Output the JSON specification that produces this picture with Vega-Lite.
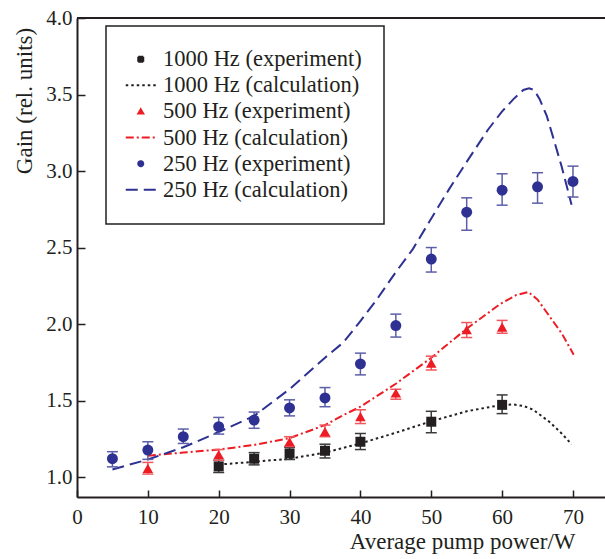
{
  "$schema": "https://vega.github.io/schema/vega-lite/v6.json",
  "width": 528,
  "height": 479,
  "autosize": {"type": "none"},
  "padding": {"left": 77, "top": 18, "right": 0, "bottom": 62},
  "background": "white",
  "config": {
    "view": {"stroke": null},
    "font": "Liberation Serif",
    "axis": {
      "grid": false,
      "domainColor": "#231f20",
      "domainWidth": 2,
      "tickColor": "#231f20",
      "tickWidth": 1.5,
      "labelFont": "Liberation Serif",
      "labelColor": "#231f20",
      "labelFontSize": 21,
      "titleFont": "Liberation Serif",
      "titleColor": "#231f20",
      "titleFontSize": 23,
      "titleFontWeight": "normal"
    }
  },
  "data": {
    "values": [
      {"s": "1000 Hz (experiment)", "p": 20, "g": 1.07, "lo": 1.03, "hi": 1.11},
      {"s": "1000 Hz (experiment)", "p": 25, "g": 1.12, "lo": 1.08, "hi": 1.16},
      {"s": "1000 Hz (experiment)", "p": 30, "g": 1.155, "lo": 1.115, "hi": 1.195},
      {"s": "1000 Hz (experiment)", "p": 35, "g": 1.172, "lo": 1.125, "hi": 1.215},
      {"s": "1000 Hz (experiment)", "p": 40, "g": 1.231, "lo": 1.18, "hi": 1.285},
      {"s": "1000 Hz (experiment)", "p": 50, "g": 1.362, "lo": 1.29, "hi": 1.43},
      {"s": "1000 Hz (experiment)", "p": 60, "g": 1.472, "lo": 1.415, "hi": 1.537},
      {"s": "500 Hz (experiment)", "p": 10, "g": 1.057, "lo": 1.02, "hi": 1.096},
      {"s": "500 Hz (experiment)", "p": 20, "g": 1.148, "lo": 1.11, "hi": 1.18},
      {"s": "500 Hz (experiment)", "p": 30, "g": 1.231, "lo": 1.2, "hi": 1.264},
      {"s": "500 Hz (experiment)", "p": 35, "g": 1.297, "lo": 1.264, "hi": 1.34},
      {"s": "500 Hz (experiment)", "p": 40, "g": 1.395, "lo": 1.35, "hi": 1.44},
      {"s": "500 Hz (experiment)", "p": 45, "g": 1.55, "lo": 1.509, "hi": 1.574},
      {"s": "500 Hz (experiment)", "p": 50, "g": 1.745, "lo": 1.7, "hi": 1.79},
      {"s": "500 Hz (experiment)", "p": 55, "g": 1.963, "lo": 1.912, "hi": 2.01},
      {"s": "500 Hz (experiment)", "p": 60, "g": 1.98, "lo": 1.94, "hi": 2.024},
      {"s": "250 Hz (experiment)", "p": 5, "g": 1.12, "lo": 1.067, "hi": 1.166},
      {"s": "250 Hz (experiment)", "p": 10, "g": 1.177, "lo": 1.116, "hi": 1.231},
      {"s": "250 Hz (experiment)", "p": 15, "g": 1.264, "lo": 1.22, "hi": 1.314},
      {"s": "250 Hz (experiment)", "p": 20, "g": 1.33, "lo": 1.281, "hi": 1.39},
      {"s": "250 Hz (experiment)", "p": 25, "g": 1.373, "lo": 1.319, "hi": 1.425},
      {"s": "250 Hz (experiment)", "p": 30, "g": 1.452, "lo": 1.4, "hi": 1.505},
      {"s": "250 Hz (experiment)", "p": 35, "g": 1.517, "lo": 1.46, "hi": 1.585},
      {"s": "250 Hz (experiment)", "p": 40, "g": 1.74, "lo": 1.668, "hi": 1.81},
      {"s": "250 Hz (experiment)", "p": 45, "g": 1.99, "lo": 1.915, "hi": 2.065},
      {"s": "250 Hz (experiment)", "p": 50, "g": 2.425, "lo": 2.34, "hi": 2.5},
      {"s": "250 Hz (experiment)", "p": 55, "g": 2.731, "lo": 2.613, "hi": 2.825},
      {"s": "250 Hz (experiment)", "p": 60, "g": 2.875, "lo": 2.777, "hi": 2.982},
      {"s": "250 Hz (experiment)", "p": 65, "g": 2.897, "lo": 2.79, "hi": 2.989},
      {"s": "250 Hz (experiment)", "p": 70, "g": 2.932, "lo": 2.83, "hi": 3.032},
      {"s": "1000 Hz (calculation)", "p": 20.8, "g": 1.085},
      {"s": "1000 Hz (calculation)", "p": 25, "g": 1.1},
      {"s": "1000 Hz (calculation)", "p": 30, "g": 1.12},
      {"s": "1000 Hz (calculation)", "p": 35, "g": 1.16},
      {"s": "1000 Hz (calculation)", "p": 40, "g": 1.22},
      {"s": "1000 Hz (calculation)", "p": 45, "g": 1.29},
      {"s": "1000 Hz (calculation)", "p": 50, "g": 1.365},
      {"s": "1000 Hz (calculation)", "p": 55, "g": 1.43},
      {"s": "1000 Hz (calculation)", "p": 59.7, "g": 1.47},
      {"s": "1000 Hz (calculation)", "p": 61.5, "g": 1.475},
      {"s": "1000 Hz (calculation)", "p": 63, "g": 1.465},
      {"s": "1000 Hz (calculation)", "p": 64.4, "g": 1.44},
      {"s": "1000 Hz (calculation)", "p": 66.7, "g": 1.36},
      {"s": "1000 Hz (calculation)", "p": 68.3, "g": 1.29},
      {"s": "1000 Hz (calculation)", "p": 69.8, "g": 1.215},
      {"s": "500 Hz (calculation)", "p": 10, "g": 1.14},
      {"s": "500 Hz (calculation)", "p": 15, "g": 1.16},
      {"s": "500 Hz (calculation)", "p": 20, "g": 1.18},
      {"s": "500 Hz (calculation)", "p": 25, "g": 1.21},
      {"s": "500 Hz (calculation)", "p": 30, "g": 1.255},
      {"s": "500 Hz (calculation)", "p": 35, "g": 1.34},
      {"s": "500 Hz (calculation)", "p": 37.8, "g": 1.41},
      {"s": "500 Hz (calculation)", "p": 40, "g": 1.46},
      {"s": "500 Hz (calculation)", "p": 45, "g": 1.61},
      {"s": "500 Hz (calculation)", "p": 50, "g": 1.78},
      {"s": "500 Hz (calculation)", "p": 55, "g": 1.97},
      {"s": "500 Hz (calculation)", "p": 59.7, "g": 2.13},
      {"s": "500 Hz (calculation)", "p": 62, "g": 2.19},
      {"s": "500 Hz (calculation)", "p": 63.7, "g": 2.21},
      {"s": "500 Hz (calculation)", "p": 65, "g": 2.16},
      {"s": "500 Hz (calculation)", "p": 66.7, "g": 2.05},
      {"s": "500 Hz (calculation)", "p": 68.4, "g": 1.94},
      {"s": "500 Hz (calculation)", "p": 70.1, "g": 1.8},
      {"s": "250 Hz (calculation)", "p": 5, "g": 1.05},
      {"s": "250 Hz (calculation)", "p": 10, "g": 1.115},
      {"s": "250 Hz (calculation)", "p": 15, "g": 1.195},
      {"s": "250 Hz (calculation)", "p": 17.3, "g": 1.24},
      {"s": "250 Hz (calculation)", "p": 20, "g": 1.295},
      {"s": "250 Hz (calculation)", "p": 25, "g": 1.4},
      {"s": "250 Hz (calculation)", "p": 30, "g": 1.575},
      {"s": "250 Hz (calculation)", "p": 35, "g": 1.78},
      {"s": "250 Hz (calculation)", "p": 37.6, "g": 1.88},
      {"s": "250 Hz (calculation)", "p": 40, "g": 2.02},
      {"s": "250 Hz (calculation)", "p": 42.3, "g": 2.16},
      {"s": "250 Hz (calculation)", "p": 45, "g": 2.34},
      {"s": "250 Hz (calculation)", "p": 47.4, "g": 2.49},
      {"s": "250 Hz (calculation)", "p": 50, "g": 2.69},
      {"s": "250 Hz (calculation)", "p": 52.5, "g": 2.88},
      {"s": "250 Hz (calculation)", "p": 55, "g": 3.06},
      {"s": "250 Hz (calculation)", "p": 58, "g": 3.27},
      {"s": "250 Hz (calculation)", "p": 60, "g": 3.39},
      {"s": "250 Hz (calculation)", "p": 61.6, "g": 3.47},
      {"s": "250 Hz (calculation)", "p": 63, "g": 3.53},
      {"s": "250 Hz (calculation)", "p": 63.8, "g": 3.54},
      {"s": "250 Hz (calculation)", "p": 64.5, "g": 3.53},
      {"s": "250 Hz (calculation)", "p": 65.3, "g": 3.47},
      {"s": "250 Hz (calculation)", "p": 66.3, "g": 3.36},
      {"s": "250 Hz (calculation)", "p": 67.2, "g": 3.22},
      {"s": "250 Hz (calculation)", "p": 68.4, "g": 3.03},
      {"s": "250 Hz (calculation)", "p": 69.8, "g": 2.78}
    ]
  },
  "layer": [
    {
      "data": {"values": [{}]},
      "mark": {"type": "rule", "color": "#231f20", "strokeWidth": 2},
      "encoding": {
        "y": {"datum": 4, "type": "quantitative", "scale": {"domain": [0.87, 4]}}
      }
    },
    {
      "transform": [{"filter": "indexof(datum.s, 'calculation') >= 0"}],
      "mark": {"type": "line", "strokeWidth": 2},
      "encoding": {
        "x": {
          "field": "p", "type": "quantitative",
          "scale": {"domain": [0, 74.52]},
          "axis": {
            "values": [0, 10, 20, 30, 40, 50, 60, 70],
            "format": "d",
            "tickSize": -7,
            "labelPadding": 33.5,
            "labelBaseline": "alphabetic",
            "labelFlush": false,
            "labelOverlap": false,
            "title": "Average pump power/W",
            "titleX": 498,
            "titleY": 51,
            "titleAlign": "right",
            "titleBaseline": "alphabetic"
          }
        },
        "y": {
          "field": "g", "type": "quantitative",
          "scale": {"domain": [0.87, 4]},
          "axis": {
            "values": [1, 1.5, 2, 2.5, 3, 3.5, 4],
            "format": ".1f",
            "tickSize": -8,
            "labelPadding": 13,
            "labelFlush": false,
            "labelOverlap": false,
            "title": "Gain (rel. units)",
            "titleX": -46,
            "titleY": 82.5,
            "titleAngle": -90,
            "titleAlign": "center",
            "titleBaseline": "alphabetic"
          }
        },
        "color": {
          "field": "s", "type": "nominal",
          "scale": {
            "domain": ["1000 Hz (experiment)", "1000 Hz (calculation)", "500 Hz (experiment)", "500 Hz (calculation)", "250 Hz (experiment)", "250 Hz (calculation)"],
            "range": ["#231f20", "#231f20", "#ed1c24", "#ed1c24", "#2e3192", "#2e3192"]
          },
          "legend": {
            "orient": "none",
            "legendX": 29,
            "legendY": 8,
            "title": null,
            "padding": 22,
            "strokeColor": "#231f20",
            "labelFont": "Liberation Serif",
            "labelFontSize": 22.5,
            "labelColor": "#231f20",
            "labelLimit": 400,
            "labelOffset": 11,
            "symbolOffset": 1.5,
            "rowPadding": 3.1,
            "symbolSize": 25,
            "symbolStrokeWidth": 2,
            "encode": {
              "legend": {"update": {"strokeWidth": {"value": 1.5}}},
              "symbols": {
                "update": {
                  "shape": {"scale": "shape", "field": "value"},
                  "strokeDash": {"scale": "strokeDash", "field": "value"},
                  "fill": {"scale": "color", "field": "value"},
                  "stroke": {"scale": "color", "field": "value"},
                  "opacity": {"value": 1},
                  "fillOpacity": {"value": 1},
                  "strokeOpacity": {"value": 1}
                }
              }
            }
          }
        },
        "strokeDash": {
          "field": "s", "type": "nominal",
          "scale": {
            "domain": ["1000 Hz (experiment)", "1000 Hz (calculation)", "500 Hz (experiment)", "500 Hz (calculation)", "250 Hz (experiment)", "250 Hz (calculation)"],
            "range": [[1, 0], [2.5, 3], [1, 0], [8, 3, 2, 3], [1, 0], [12, 6]]
          },
          "legend": null
        }
      }
    },
    {
      "transform": [{"filter": "indexof(datum.s, 'experiment') >= 0"}],
      "mark": {"type": "rule", "strokeWidth": 1.5},
      "encoding": {
        "x": {"field": "p", "type": "quantitative", "scale": {"domain": [0, 74.52]}},
        "y": {"field": "lo", "type": "quantitative", "scale": {"domain": [0.87, 4]}},
        "y2": {"field": "hi"},
        "stroke": {
          "field": "s", "type": "nominal",
          "scale": {
            "domain": ["1000 Hz (experiment)", "500 Hz (experiment)", "250 Hz (experiment)"],
            "range": ["#3a3a3a", "#f0565c", "#5c5fa8"]
          },
          "legend": null
        }
      }
    },
    {
      "transform": [
        {"filter": "indexof(datum.s, 'experiment') >= 0"},
        {"fold": ["lo", "hi"], "as": ["k", "v"]}
      ],
      "mark": {"type": "tick", "orient": "horizontal", "size": 11, "thickness": 1.5, "opacity": 1},
      "encoding": {
        "x": {"field": "p", "type": "quantitative", "scale": {"domain": [0, 74.52]}},
        "y": {"field": "v", "type": "quantitative", "scale": {"domain": [0.87, 4]}},
        "fill": {
          "field": "s", "type": "nominal",
          "scale": {
            "domain": ["1000 Hz (experiment)", "500 Hz (experiment)", "250 Hz (experiment)"],
            "range": ["#3a3a3a", "#f0565c", "#5c5fa8"]
          },
          "legend": null
        }
      }
    },
    {
      "transform": [{"filter": "indexof(datum.s, 'experiment') >= 0"}],
      "mark": {"type": "point", "filled": true, "opacity": 1},
      "encoding": {
        "x": {"field": "p", "type": "quantitative", "scale": {"domain": [0, 74.52]}},
        "y": {"field": "g", "type": "quantitative", "scale": {"domain": [0.87, 4]}},
        "size": {
          "field": "s", "type": "nominal",
          "scale": {
            "domain": ["1000 Hz (experiment)", "500 Hz (experiment)", "250 Hz (experiment)"],
            "range": [100, 120, 90]
          },
          "legend": null
        },
        "color": {
          "field": "s", "type": "nominal",
          "scale": {
            "domain": ["1000 Hz (experiment)", "1000 Hz (calculation)", "500 Hz (experiment)", "500 Hz (calculation)", "250 Hz (experiment)", "250 Hz (calculation)"],
            "range": ["#231f20", "#231f20", "#ed1c24", "#ed1c24", "#2e3192", "#2e3192"]
          },
          "legend": null
        },
        "shape": {
          "field": "s", "type": "nominal",
          "scale": {
            "domain": ["1000 Hz (experiment)", "1000 Hz (calculation)", "500 Hz (experiment)", "500 Hz (calculation)", "250 Hz (experiment)", "250 Hz (calculation)"],
            "range": ["square", "M-6,0H6", "triangle-up", "M-6,0H6", "circle", "M-6,0H6"]
          },
          "legend": null
        }
      }
    }
  ]
}
